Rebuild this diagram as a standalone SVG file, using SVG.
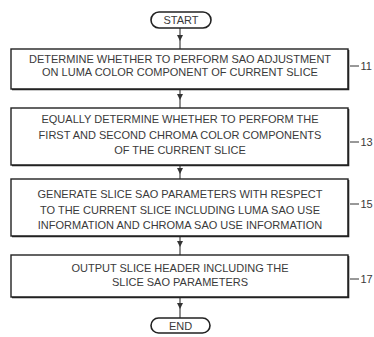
<svg xmlns="http://www.w3.org/2000/svg" width="374" height="337" viewBox="0 0 374 337">
<style>
.bg{fill:#fff}
.box{fill:#fff;stroke:#222;stroke-width:1.4}
.sh{stroke:#222;stroke-width:1.6;fill:none}
.term{fill:#fff;stroke:#222;stroke-width:1.6}
.t{font-family:"Liberation Sans",Arial,sans-serif;font-size:11px;fill:#3a3a3a;text-anchor:middle}
.lbl{font-family:"Liberation Sans",Arial,sans-serif;font-size:11px;fill:#3a3a3a}
.ln{stroke:#333;stroke-width:1;fill:none}
.c{stroke:#333;stroke-width:1.1;fill:none}
</style>
<defs>
<marker id="ah" markerWidth="6" markerHeight="6" refX="3" refY="3" orient="auto" markerUnits="userSpaceOnUse">
<path d="M0,0 L6,3 L0,6 z" fill="#333"/>
</marker>
</defs>
<rect class="bg" x="0" y="0" width="374" height="337"/>
<g id="connectors">
<path class="c" d="M180,28 V38" marker-end="url(#ah)"/><path class="c" d="M180,38 V49"/>
<path class="c" d="M180,89 V97" marker-end="url(#ah)"/><path class="c" d="M180,97 V108"/>
<path class="c" d="M180,165 V171" marker-end="url(#ah)"/><path class="c" d="M180,171 V179"/>
<path class="c" d="M180,236 V244" marker-end="url(#ah)"/><path class="c" d="M180,244 V255"/>
<path class="c" d="M180,297 V306" marker-end="url(#ah)"/><path class="c" d="M180,306 V318"/>
</g>
<g id="start">
<rect class="term" x="151" y="12" width="60" height="16" rx="8"/>
<text class="t" x="181" y="24">START</text>
</g>
<g id="n11">
<rect class="box" x="11" y="49" width="337" height="40"/>
<path class="sh" d="M12,89.5 H348.5 V50"/>
<text class="t" x="180" y="63">DETERMINE WHETHER TO PERFORM SAO ADJUSTMENT</text>
<text class="t" x="180" y="75.5">ON LUMA COLOR COMPONENT OF CURRENT SLICE</text>
<path class="ln" d="M350,66 H359"/>
<text class="lbl" x="360.5" y="70">11</text>
</g>
<g id="n13">
<rect class="box" x="11" y="108" width="337" height="57"/>
<path class="sh" d="M12,165.5 H348.5 V109"/>
<text class="t" x="180" y="123">EQUALLY DETERMINE WHETHER TO PERFORM THE</text>
<text class="t" x="180" y="138.5">FIRST AND SECOND CHROMA COLOR COMPONENTS</text>
<text class="t" x="180" y="154">OF THE CURRENT SLICE</text>
<path class="ln" d="M350,142 H359"/>
<text class="lbl" x="360.5" y="146">13</text>
</g>
<g id="n15">
<rect class="box" x="11" y="179" width="337" height="57"/>
<path class="sh" d="M12,236.5 H348.5 V180"/>
<text class="t" x="180" y="198">GENERATE SLICE SAO PARAMETERS WITH RESPECT</text>
<text class="t" x="180" y="213.5">TO THE CURRENT SLICE INCLUDING LUMA SAO USE</text>
<text class="t" x="180" y="229">INFORMATION AND CHROMA SAO USE INFORMATION</text>
<path class="ln" d="M350,204 H359"/>
<text class="lbl" x="360.5" y="208">15</text>
</g>
<g id="n17">
<rect class="box" x="11" y="255" width="337" height="42"/>
<path class="sh" d="M12,297.5 H348.5 V256"/>
<text class="t" x="180" y="272">OUTPUT SLICE HEADER INCLUDING THE</text>
<text class="t" x="180" y="286">SLICE SAO PARAMETERS</text>
<path class="ln" d="M350,279 H359"/>
<text class="lbl" x="360.5" y="283">17</text>
</g>
<g id="end">
<rect class="term" x="151" y="318" width="59" height="15" rx="7.5"/>
<text class="t" x="180.5" y="329.5">END</text>
</g>
</svg>
